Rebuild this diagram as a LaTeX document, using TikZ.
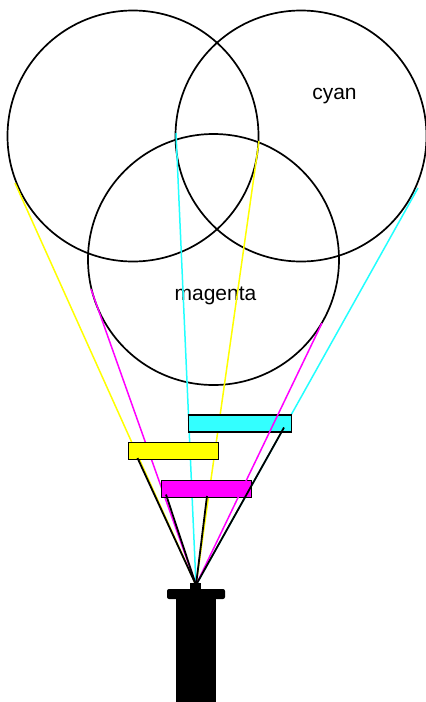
\documentclass[tikz,border=0pt]{standalone}
\usepackage{fontspec}
\setmainfont{Liberation Sans}
\usetikzlibrary{positioning,calc}
\definecolor{filtc}{HTML}{33FFFF}
\definecolor{filty}{HTML}{FFFF00}
\definecolor{filtm}{HTML}{FF00FF}
\definecolor{rayc}{HTML}{22FFFF}
\tikzset{
  ring/.style={draw, circle, line width=1.7pt, minimum size=251pt, inner sep=0pt},
  filt/.style={draw, fill=#1, line width=1.7pt, minimum height=17pt, inner sep=0pt},
  ray/.style={line width=1.5pt, draw=#1},
  beam/.style={line width=1.8pt, black},
  cam/.style={fill=black, inner sep=0pt},
  lbl/.style={font=\fontsize{21}{25}\selectfont, anchor=base},
}
\begin{document}
\begin{tikzpicture}[x=1pt, y=-1pt]
  \useasboundingbox (0,0) rectangle (426,702);
  % the three colour circles
  \node[ring] (yc) at (133,136) {};
  \node[ring] (cc) at (301,136) {};
  \node[ring] (mc) at (213.5,259.5) {};
  \node[lbl] (cname) at (334.5,99) {cyan};
  \node[lbl] (mname) at (215.5,300.7) {magenta};
  % eye point and ray ends (near the tangents)
  \coordinate (eye) at (196,585);
  \coordinate (yl) at (15,183);
  \coordinate (yr) at (259,141);
  \coordinate (cl) at (176,133);
  \coordinate (cr) at (418,188);
  \coordinate (ml) at (91,289);
  \coordinate (mr) at (322,323);
  \foreach \p/\c in {yl/filty,yr/filty,cl/rayc,cr/rayc,ml/filtm} \draw[ray=\c] (\p) -- (eye);
  % filters
  \node[filt=filtc, minimum width=103pt] (cf) at (240,423.5) {};
  \node[filt=filty, minimum width=90pt] (yf) at (173.5,451) {};
  \node[filt=filtm, minimum width=90pt] (mf) at (206.5,489) {};
  \draw[ray=filtm] (mr) -- (eye);
  % black beams from the filters
  \coordinate (yb) at (137.5,458);
  \coordinate (mb1) at (166,494.5);
  \coordinate (mb2) at (207,496);
  \coordinate (cb) at (284,427.5);
  \foreach \p in {yb,mb1,mb2,cb} \draw[beam] (\p) -- (eye);
  % camera
  \node[cam, minimum width=11pt, minimum height=7pt] (lens) at (195.5,586.5) {};
  \node[cam, rounded corners=2pt, minimum width=58pt, minimum height=10pt] (bar) at (196,594) {};
  \node[cam, minimum width=40pt, minimum height=104pt, below=-1pt of bar] (stem) {};
\end{tikzpicture}
\end{document}
